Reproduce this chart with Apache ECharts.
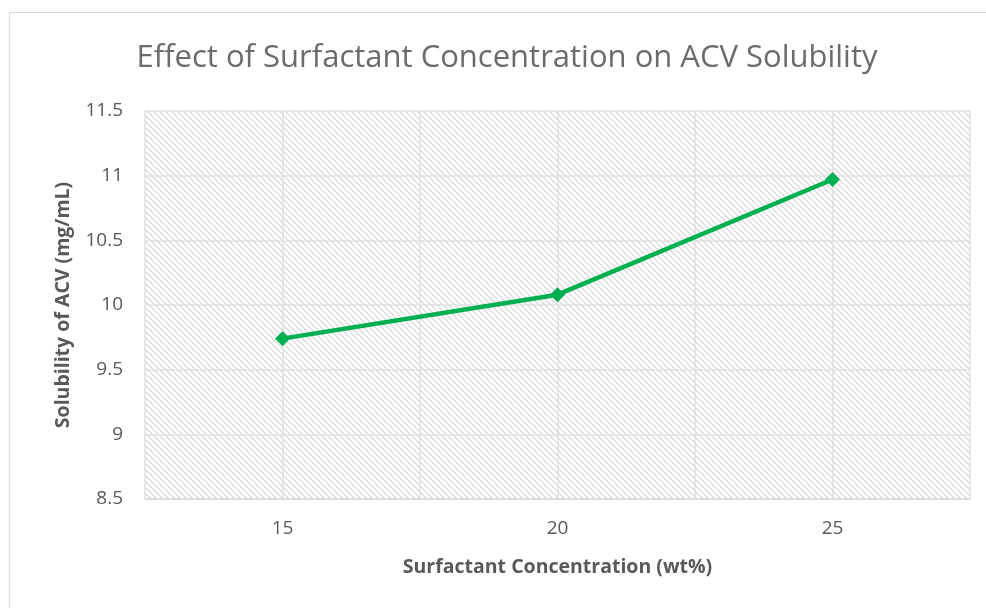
<!DOCTYPE html>
<html>
<head>
<meta charset="utf-8">
<script src="https://cdn.jsdelivr.net/npm/echarts@6/dist/echarts.min.js"></script>
<style>
  html, body { margin: 0; padding: 0; background: #fff; }
  #chart { width: 986px; height: 608px; }
</style>
</head>
<body>
<div id="chart"></div>
<script>
const concentrations = [15, 20, 25];
const solubility = [9.74, 10.08, 10.97];
const yTicks = [8.5, 9, 9.5, 10, 10.5, 11, 11.5];

// diagonal hatch fill like the Excel plot area
const makeHatch = () => {
    const c = document.createElement('canvas');
    c.width = 6;
    c.height = 6;
    const ctx = c.getContext('2d');
    ctx.fillStyle = '#ffffff';
    ctx.fillRect(0, 0, 6, 6);
    ctx.strokeStyle = '#d4d4d4';
    ctx.lineWidth = 1.2;
    ctx.beginPath();
    ctx.moveTo(-1, -1); ctx.lineTo(7, 7);
    ctx.moveTo(-1, 5); ctx.lineTo(1, 7);
    ctx.moveTo(5, -1); ctx.lineTo(7, 1);
    ctx.stroke();
    return c;
};

const labelFont = { fontFamily: 'Open Sans', fontSize: 19, color: '#595959' };
const nameFont = { fontFamily: 'Open Sans', fontWeight: 'bold', fontSize: 19.5, color: '#595959' };

const getOption = () => {
    return {
        animation: false,
        title: {
            text: 'Effect of Surfactant Concentration on ACV Solubility',
            left: 502,
            top: 38,
            textAlign: 'center',
            textStyle: {
                fontFamily: 'Open Sans',
                fontWeight: 'normal',
                fontSize: 31,
                color: '#6b6b6b'
            }
        },
        graphic: [{
            type: 'rect',
            shape: { x: 9.5, y: 12.5, width: 990, height: 600 },
            style: { fill: 'none', stroke: '#d9d9d9', lineWidth: 1 },
            silent: true
        }],
        grid: {
            left: 145,
            right: 16,
            top: 111,
            bottom: 109,
            show: true,
            borderWidth: 0,
            backgroundColor: { image: makeHatch(), repeat: 'repeat' }
        },
        xAxis: {
            type: 'value',
            min: 12.5,
            max: 27.5,
            interval: 2.5,
            name: 'Surfactant Concentration (wt%)',
            nameLocation: 'middle',
            nameGap: 58,
            nameTextStyle: nameFont,
            axisLine: { show: true, lineStyle: { color: '#d9d9d9', width: 1.5 } },
            axisTick: { show: false },
            axisLabel: Object.assign({
                margin: 20,
                showMinLabel: false,
                showMaxLabel: false,
                formatter: v => (concentrations.includes(v) ? String(v) : '')
            }, labelFont),
            splitLine: { show: true, lineStyle: { color: '#e0e0e0', width: 1.5 } }
        },
        yAxis: {
            type: 'value',
            min: yTicks[0],
            max: yTicks[yTicks.length - 1],
            interval: 0.5,
            name: 'Solubility of ACV (mg/mL)',
            nameLocation: 'middle',
            nameGap: 72,
            nameTextStyle: nameFont,
            axisLine: { show: false },
            axisTick: { show: false },
            axisLabel: Object.assign({ margin: 22 }, labelFont),
            splitLine: { show: true, lineStyle: { color: '#e0e0e0', width: 1.5 } }
        },
        series: [{
            type: 'line',
            data: concentrations.map((c, i) => [c, solubility[i]]),
            symbol: 'diamond',
            symbolSize: 15,
            lineStyle: { color: '#00b050', width: 4.5 },
            itemStyle: { color: '#00b050' }
        }]
    };
};

window.addEventListener('load', () => {
    const chart = echarts.init(document.getElementById('chart'));
    chart.setOption(getOption());
});
</script>
</body>
</html>
